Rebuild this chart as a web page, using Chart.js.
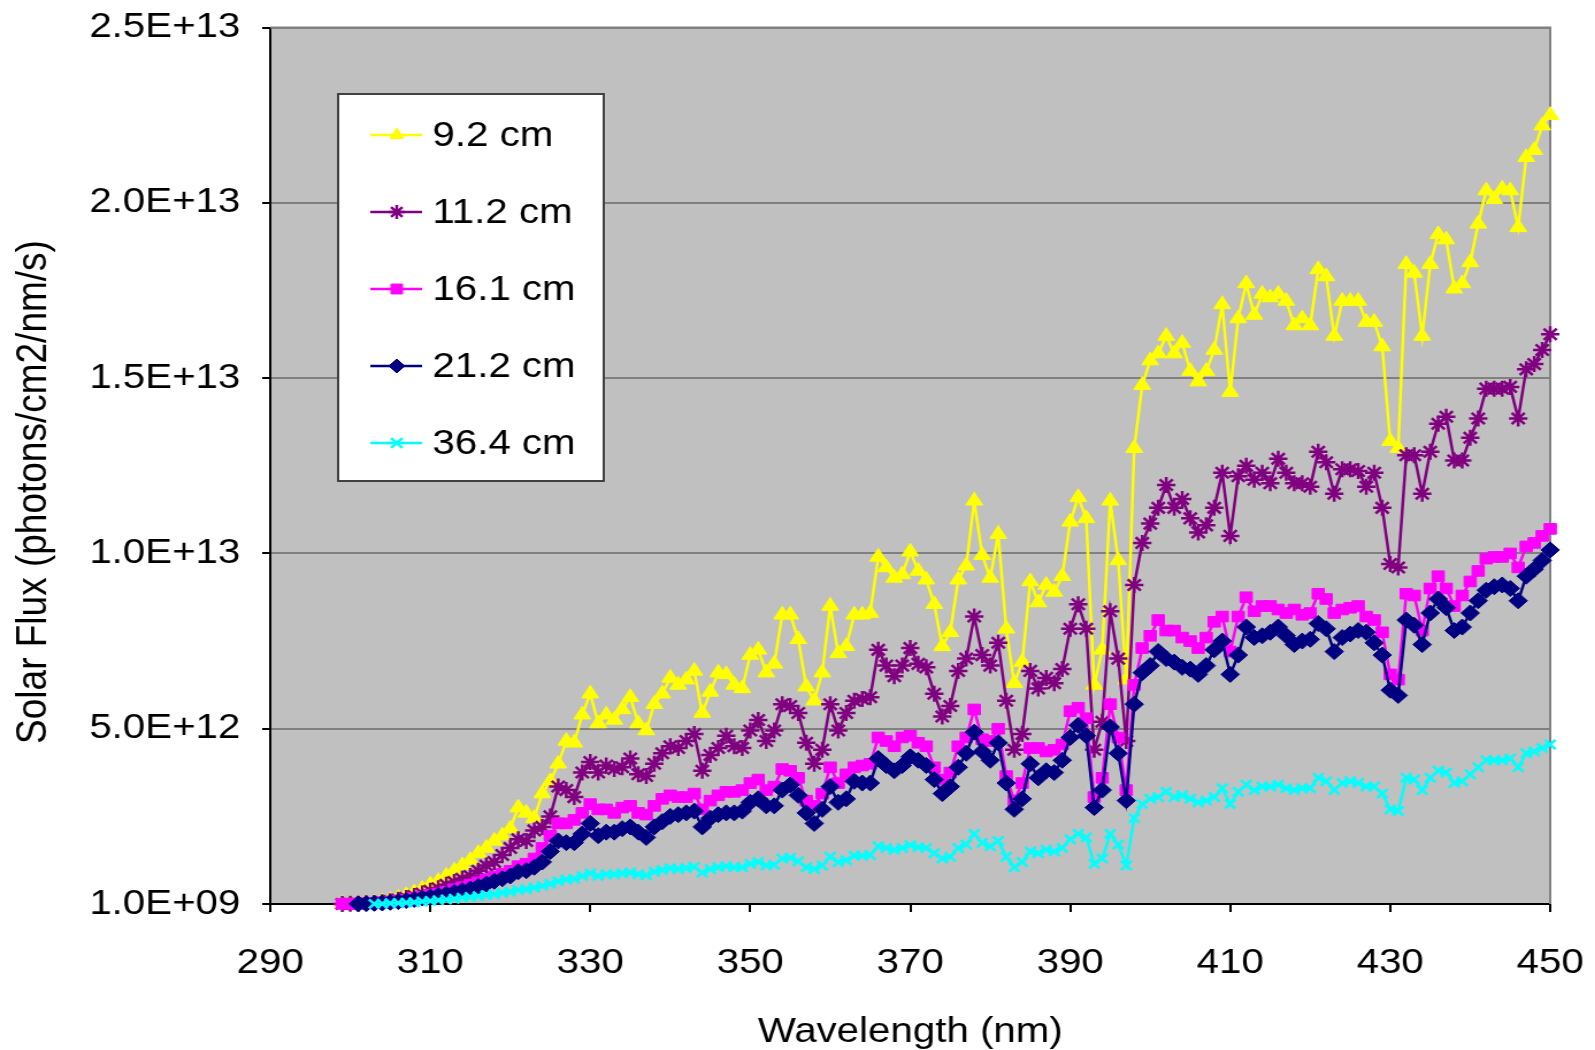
<!DOCTYPE html>
<html><head><meta charset="utf-8">
<script src="https://cdn.jsdelivr.net/npm/chart.js@4.4.1/dist/chart.umd.min.js"></script>
<style>
html,body{margin:0;padding:0;background:#fff;overflow:hidden;}
#wrap{position:absolute;left:0;top:0;width:1387px;height:1050px;transform:scaleX(1.15);transform-origin:0 0;}
canvas{display:block;}
</style></head><body>
<div id="wrap"><canvas id="c" width="1387" height="1050"></canvas></div>
<script>
// ---- data (flux values in units of 1e12 photons/cm2/nm/s) ----
const UNIT = 1e12;
const wavelengths = [
299,300,301,302,303,304,305,306,307,308,309,310,311,312,313,314,315,316,317,318,
319,320,321,322,323,324,325,326,327,328,329,330,331,332,333,334,335,336,337,338,
339,340,341,342,343,344,345,346,347,348,349,350,351,352,353,354,355,356,357,358,
359,360,361,362,363,364,365,366,367,368,369,370,371,372,373,374,375,376,377,378,
379,380,381,382,383,384,385,386,387,388,389,390,391,392,393,394,395,396,397,398,
399,400,401,402,403,404,405,406,407,408,409,410,411,412,413,414,415,416,417,418,
419,420,421,422,423,424,425,426,427,428,429,430,431,432,433,434,435,436,437,438,
439,440,441,442,443,444,445,446,447,448,449,450];

const flux_9_2 = [
0.002,0.005,0.01,0.02,0.04,0.07,0.11,0.17,0.25,0.33,
0.43,0.55,0.65,0.8,0.95,1.1,1.25,1.45,1.6,1.8,
1.95,2.15,2.75,2.6,2.45,3.15,3.5,4.0,4.65,4.6,
5.4,6.0,5.15,5.4,5.25,5.55,5.9,5.15,4.95,5.7,
6.0,6.45,6.25,6.4,6.65,5.45,6.05,6.6,6.55,6.25,
6.15,7.1,7.25,6.6,6.85,8.25,8.25,7.55,6.2,5.8,
6.6,8.5,7.15,7.35,8.25,8.25,8.3,9.9,9.6,9.3,
9.4,10.05,9.5,9.25,8.55,7.35,7.75,9.25,9.65,11.5,
9.95,9.3,10.55,7.85,6.3,6.9,9.2,8.6,9.1,8.9,
9.35,10.9,11.6,11.0,6.25,7.25,11.5,9.8,6.4,13.0,
14.8,15.5,15.7,16.2,15.7,16.0,15.2,14.9,15.2,15.8,
17.1,14.6,16.7,17.7,16.8,17.4,17.3,17.4,17.2,16.5,
16.7,16.5,18.1,17.9,16.2,17.2,17.2,17.2,16.6,16.6,
15.9,13.2,13.0,18.25,18.0,16.2,18.25,19.1,18.95,17.55,
17.7,18.3,19.4,20.35,20.1,20.4,20.35,19.3,21.3,21.5,
22.2,22.5];

const flux_11_2 = [
0.002,0.005,0.01,0.02,0.03,0.05,0.08,0.12,0.17,0.23,
0.3,0.38,0.45,0.55,0.63,0.72,0.8,0.95,1.1,1.2,
1.4,1.6,1.85,1.8,2.1,2.2,2.5,3.35,3.25,3.05,
3.75,4.05,3.75,3.95,3.85,3.9,4.15,3.7,3.65,4.0,
4.3,4.5,4.45,4.65,4.85,3.8,4.25,4.45,4.8,4.5,
4.45,4.95,5.25,4.65,4.95,5.7,5.65,5.45,4.6,4.0,
4.4,5.7,4.95,5.45,5.8,5.85,5.9,7.25,6.8,6.5,
6.8,7.3,6.85,6.75,6.0,5.35,5.65,6.65,7.0,8.2,
7.1,6.8,7.45,5.8,4.4,4.85,6.65,6.15,6.45,6.3,
6.7,7.85,8.55,7.85,4.4,5.2,8.35,7.0,4.65,9.1,
10.3,10.85,11.3,11.95,11.3,11.55,11.0,10.6,10.8,11.3,
12.3,10.5,12.2,12.5,12.1,12.3,12.0,12.7,12.3,12.0,
12.0,11.9,12.9,12.6,11.7,12.4,12.4,12.35,11.9,12.3,
11.3,9.7,9.6,12.8,12.8,11.7,12.9,13.7,13.9,12.65,
12.65,13.3,13.85,14.7,14.7,14.7,14.75,13.85,15.25,15.4,
15.8,16.25];

const flux_16_1 = [
0.005,0.008,0.012,0.02,0.03,0.05,0.07,0.1,0.13,0.17,
0.21,0.26,0.3,0.35,0.42,0.48,0.55,0.62,0.7,0.78,
0.86,0.95,1.08,1.15,1.3,1.6,1.95,2.3,2.3,2.4,
2.6,2.85,2.7,2.7,2.6,2.75,2.8,2.6,2.55,2.8,
3.0,3.1,3.05,3.05,3.15,2.7,2.95,3.1,3.2,3.2,
3.25,3.45,3.55,3.25,3.35,3.85,3.8,3.6,2.95,2.8,
3.15,3.9,3.45,3.7,3.9,3.95,4.0,4.75,4.65,4.5,
4.75,4.8,4.6,4.5,3.9,3.55,3.75,4.5,4.75,5.55,
4.7,4.65,5.0,3.65,2.95,3.45,4.45,4.45,4.35,4.4,
4.55,5.5,5.6,5.3,3.05,3.6,5.7,4.75,3.25,6.25,
7.3,7.65,8.1,7.8,7.8,7.6,7.5,7.3,7.6,8.05,
8.2,7.2,8.2,8.75,8.35,8.5,8.5,8.4,8.3,8.4,
8.25,8.3,8.85,8.7,8.3,8.4,8.45,8.5,8.2,8.1,
7.75,6.55,6.4,8.85,8.8,7.8,9.0,9.35,9.0,8.5,
8.8,9.2,9.5,9.85,9.9,9.9,10.0,9.6,10.2,10.3,
10.5,10.7];

const flux_21_2 = [
null,null,0.005,0.01,0.02,0.03,0.05,0.07,0.1,0.13,
0.17,0.2,0.24,0.28,0.33,0.38,0.43,0.5,0.57,0.65,
0.72,0.8,0.92,0.95,1.05,1.2,1.5,1.8,1.75,1.75,
2.0,2.3,1.95,2.05,2.05,2.15,2.2,2.05,1.9,2.2,
2.35,2.5,2.55,2.6,2.65,2.2,2.45,2.55,2.6,2.6,
2.65,2.9,3.0,2.8,2.8,3.25,3.4,3.1,2.6,2.3,
2.7,3.35,2.9,3.0,3.5,3.45,3.45,4.15,3.95,3.8,
3.95,4.2,4.1,3.95,3.55,3.15,3.35,3.9,4.3,4.9,
4.35,4.1,4.6,3.45,2.7,3.0,4.0,3.6,3.8,3.75,
4.1,4.75,5.1,4.8,2.75,3.25,5.05,4.3,2.95,5.7,
6.6,6.8,7.2,7.0,6.9,6.75,6.7,6.55,6.8,7.25,
7.5,6.55,7.1,7.9,7.6,7.65,7.75,7.9,7.65,7.4,
7.5,7.55,8.0,7.85,7.2,7.6,7.7,7.8,7.75,7.45,
7.1,6.1,5.95,8.1,7.95,7.4,8.3,8.7,8.45,7.8,
7.9,8.3,8.65,8.95,9.05,9.1,9.0,8.65,9.35,9.55,
9.8,10.1];

const flux_36_4 = [
null,null,null,null,0.005,0.01,0.02,0.03,0.04,0.05,
0.07,0.09,0.11,0.13,0.15,0.18,0.2,0.22,0.25,0.28,
0.32,0.35,0.4,0.42,0.47,0.52,0.58,0.65,0.7,0.72,
0.8,0.88,0.8,0.85,0.85,0.88,0.9,0.85,0.82,0.92,
0.97,1.02,1.0,1.03,1.06,0.9,1.0,1.05,1.08,1.05,
1.05,1.15,1.2,1.1,1.12,1.3,1.32,1.22,1.05,1.0,
1.1,1.35,1.2,1.25,1.38,1.38,1.4,1.65,1.6,1.55,
1.6,1.68,1.62,1.6,1.45,1.3,1.35,1.6,1.7,2.0,
1.75,1.65,1.8,1.35,1.05,1.2,1.5,1.45,1.55,1.5,
1.6,1.85,2.0,1.9,1.15,1.3,2.0,1.7,1.1,2.45,
2.85,3.0,3.05,3.2,3.05,3.1,3.0,2.9,2.95,3.05,
3.3,2.85,3.2,3.4,3.25,3.35,3.35,3.4,3.3,3.25,
3.3,3.3,3.6,3.5,3.25,3.45,3.5,3.45,3.35,3.35,
3.15,2.7,2.65,3.6,3.55,3.25,3.6,3.8,3.75,3.45,
3.5,3.7,3.9,4.1,4.1,4.1,4.15,3.9,4.3,4.35,
4.45,4.55];

const seriesLabels = ['9.2 cm','11.2 cm','16.1 cm','21.2 cm','36.4 cm'];
const xTicks = [290,310,330,350,370,390,410,430,450];
const yTicks = [1e9,5e12,1e13,1.5e13,2e13,2.5e13];
const yTickLabels = ['1.0E+09','5.0E+12','1.0E+13','1.5E+13','2.0E+13','2.5E+13'];
const xTitle = 'Wavelength (nm)';
const yTitle = 'Solar Flux (photons/cm2/nm/s)';

// ---- styling ----
const FONT = '"Liberation Sans", Arial, sans-serif';
const styles = [
  {values: flux_9_2,  color:'#FFFF00', point:'triangle', r:8.5, pbw:1},
  {values: flux_11_2, color:'#800080', point:'star',     r:8,   pbw:2.5},
  {values: flux_16_1, color:'#FF00FF', point:'rect',     r:7.5, pbw:1},
  {values: flux_21_2, color:'#000080', point:'rectRot',  r:8,   pbw:1},
  {values: flux_36_4, color:'#00FFFF', point:'crossRot', r:6.5, pbw:2.5}
];

const datasets = styles.map((s,k)=>({
  label: seriesLabels[k],
  data: wavelengths.map((w,i)=> s.values[i]==null ? null : {x:w, y:s.values[i]*UNIT}).filter(p=>p!==null),
  borderColor: s.color, backgroundColor: s.color,
  pointBackgroundColor: s.color, pointBorderColor: s.color,
  pointStyle: s.point, pointRadius: s.r, pointBorderWidth: s.pbw,
  borderWidth: 2.5, tension: 0, order: 4-k, clip: false
}));

const plotBg = {
  id:'plotBg',
  beforeDraw(chart){
    const {ctx, chartArea:a} = chart;
    ctx.save();
    ctx.fillStyle = '#C0C0C0';
    ctx.fillRect(a.left, a.top, a.right-a.left, a.bottom-a.top);
    ctx.restore();
  },
  beforeDatasetsDraw(chart){
    const {ctx, chartArea:a} = chart;
    ctx.save();
    ctx.strokeStyle = '#808080'; ctx.lineWidth = 2;
    ctx.beginPath();
    ctx.moveTo(a.left, a.top); ctx.lineTo(a.right, a.top); ctx.lineTo(a.right, a.bottom);
    ctx.stroke();
    // y axis title (drawn rotated)
    ctx.fillStyle = '#000';
    ctx.font = '37px ' + FONT;
    ctx.textAlign = 'center'; ctx.textBaseline = 'middle';
    ctx.translate(30, 492);
    ctx.rotate(-Math.PI/2);
    ctx.fillText(yTitle, 0, 0);
    ctx.restore();
  }
};

const legendBox = {
  id:'legendBox',
  afterDraw(chart){
    const ctx = chart.ctx;
    const L = 294, T = 94, W = 231, H = 387;
    ctx.save();
    ctx.fillStyle = '#FFFFFF';
    ctx.fillRect(L, T, W, H);
    ctx.strokeStyle = '#404040'; ctx.lineWidth = 2;
    ctx.strokeRect(L, T, W, H);
    chart.data.datasets.forEach((ds, i) => {
      const y = 135 + i*77;
      ctx.strokeStyle = ds.borderColor; ctx.lineWidth = 2.5;
      ctx.beginPath(); ctx.moveTo(322, y); ctx.lineTo(367, y); ctx.stroke();
      ctx.fillStyle = ds.pointBackgroundColor; ctx.strokeStyle = ds.pointBorderColor;
      ctx.lineWidth = ds.pointBorderWidth;
      Chart.helpers.drawPoint(ctx, {pointStyle: ds.pointStyle, radius: 7, rotation: 0, borderWidth: ds.pointBorderWidth}, 345, y);
      ctx.fillStyle = '#000';
      ctx.font = '35px ' + FONT;
      ctx.textAlign = 'left'; ctx.textBaseline = 'middle';
      ctx.fillText(ds.label, 376, y + 1);
    });
    ctx.restore();
  }
};

new Chart(document.getElementById('c'), {
  type: 'line',
  data: { datasets },
  plugins: [plotBg, legendBox],
  options: {
    responsive: false, animation: false, devicePixelRatio: 1, events: [],
    layout: { padding: { top: 27.5, right: 39, left: 0, bottom: 0 } },
    plugins: { legend: { display: false }, tooltip: { enabled: false } },
    scales: {
      x: {
        type: 'linear', min: 290, max: 450,
        afterBuildTicks: s => { s.ticks = xTicks.map(v => ({value: v})); },
        afterFit: s => { s.height = 146; s.paddingLeft = 0; s.paddingRight = 0; },
        ticks: { font: { family: FONT, size: 35 }, color: '#000', padding: 30, maxRotation: 0, autoSkip: false },
        grid: { drawOnChartArea: false, drawTicks: true, tickLength: 8, color: '#000', lineWidth: 2 },
        border: { display: true, color: '#000', width: 2 },
        title: { display: true, text: xTitle, color: '#000', font: { family: FONT, size: 35, lineHeight: 1 }, padding: { top: 0, bottom: 0 } }
      },
      y: {
        type: 'linear', min: 1e9, max: 2.5e13,
        afterBuildTicks: s => { s.ticks = yTicks.map(v => ({value: v})); },
        afterFit: s => { s.width = 235; s.paddingTop = 0; s.paddingBottom = 0; },
        ticks: { font: { family: FONT, size: 35 }, color: '#000', padding: 19, autoSkip: false,
                 callback: (v, i) => yTickLabels[i] },
        grid: { color: '#808080', lineWidth: 2, drawTicks: true, tickLength: 7, tickColor: '#000' },
        border: { display: true, color: '#000', width: 2 },
        title: { display: false }
      }
    }
  }
});
</script>
</body></html>
